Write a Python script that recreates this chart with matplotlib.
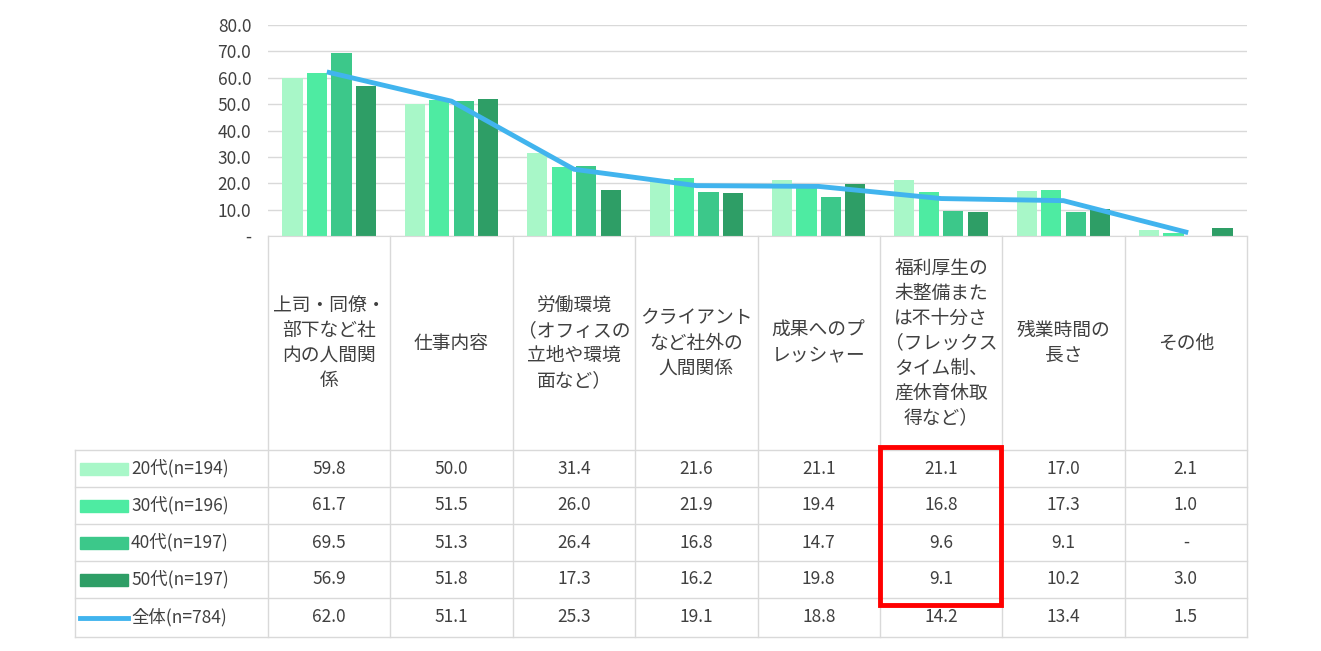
import matplotlib
matplotlib.use("Agg")
import matplotlib.pyplot as plt
from matplotlib.patches import Rectangle
import numpy as np

plt.rcParams["font.family"] = ["Noto Sans CJK JP", "DejaVu Sans"]

categories = ["上司・同僚・\n部下など社\n内の人間関\n係", "仕事内容", "労働環境\n（オフィスの\n立地や環境\n面など）",
              "クライアント\nなど社外の\n人間関係", "成果へのプ\nレッシャー",
              "福利厚生の\n未整備また\nは不十分さ\n（フレックス\nタイム制、\n産休育休取\n得など）",
              "残業時間の\n長さ", "その他"]
series_names = ["20代(n=194)", "30代(n=196)", "40代(n=197)", "50代(n=197)"]
v20 = [59.8, 50.0, 31.4, 21.6, 21.1, 21.1, 17.0, 2.1]
v30 = [61.7, 51.5, 26.0, 21.9, 19.4, 16.8, 17.3, 1.0]
v40 = [69.5, 51.3, 26.4, 16.8, 14.7, 9.6, 9.1, 0.0]
v50 = [56.9, 51.8, 17.3, 16.2, 19.8, 9.1, 10.2, 3.0]
total_name = "全体(n=784)"
total = [62.0, 51.1, 25.3, 19.1, 18.8, 14.2, 13.4, 1.5]
yticks = [0, 10, 20, 30, 40, 50, 60, 70, 80]
colors = ["#A8F7C8", "#4EEBA2", "#3CC88A", "#2E9E66"]
line_color = "#41B4EE"
grid_c = "#D9D9D9"
txt_c = "#404040"

W, H = 1321, 651
fig = plt.figure(figsize=(W/100, H/100), dpi=100)
x0, x1, yt, yb = 268, 1247, 25, 236
ax = fig.add_axes([x0/W, 1-yb/H, (x1-x0)/W, (yb-yt)/H])
n = len(categories)
x = np.arange(n)
allv = [v20, v30, v40, v50]
for i, (v, c) in enumerate(zip(allv, colors)):
    ax.bar(x + (i-1.5)*0.2, v, width=0.165, color=c, zorder=2)
ax.plot(x, total, color=line_color, lw=3.5, zorder=3)
ax.set_xlim(-0.5, n-0.5)
ax.set_ylim(0, 80)
ax.set_yticks(yticks)
ax.set_yticklabels(["-" if t == 0 else f"{t:.1f}" for t in yticks], fontsize=12.5, color=txt_c)
ax.set_xticks([])
ax.grid(axis="y", color=grid_c, lw=1, zorder=0)
for s in ["top", "right", "left"]:
    ax.spines[s].set_visible(False)
ax.spines["bottom"].set_color(grid_c)
ax.tick_params(axis="y", length=0, pad=12)

ov = fig.add_axes([0, 0, 1, 1])
ov.set_xlim(0, W); ov.set_ylim(H, 0); ov.axis("off")
cw = (x1-x0)/n
rows = [450, 487, 524, 561, 598, 637]
for i in range(n+1):
    ov.plot([x0+i*cw]*2, [yb, rows[-1]], color=grid_c, lw=1, zorder=1)
ov.plot([75, 75], [rows[0], rows[-1]], color=grid_c, lw=1, zorder=1)
for r in rows:
    ov.plot([75, x1], [r, r], color=grid_c, lw=1, zorder=1)
for i, c in enumerate(categories):
    ov.text(x0+(i+0.5)*cw, (yb+rows[0])/2, c, ha="center", va="center", fontsize=13.5,
            color=txt_c, linespacing=1.25)
vals = allv + [total]
names = series_names + [total_name]
for r in range(5):
    yc = (rows[r]+rows[r+1])/2
    if r < 4:
        ov.add_patch(Rectangle((80, yc-6), 48, 12, color=colors[r]))
    else:
        ov.plot([80, 128], [yc, yc], color=line_color, lw=3.5)
    ov.text(131, yc, names[r], ha="left", va="center", fontsize=12.5, color=txt_c)
    for i in range(n):
        v = vals[r][i]
        ov.text(x0+(i+0.5)*cw, yc, "-" if v == 0 else f"{v:.1f}", ha="center", va="center",
                fontsize=12.5, color=txt_c)
ov.add_patch(Rectangle((880, 447), 121, 158, fill=False, edgecolor="#FF0000", lw=3.5, zorder=10))
fig.savefig("out.png", dpi=100)
